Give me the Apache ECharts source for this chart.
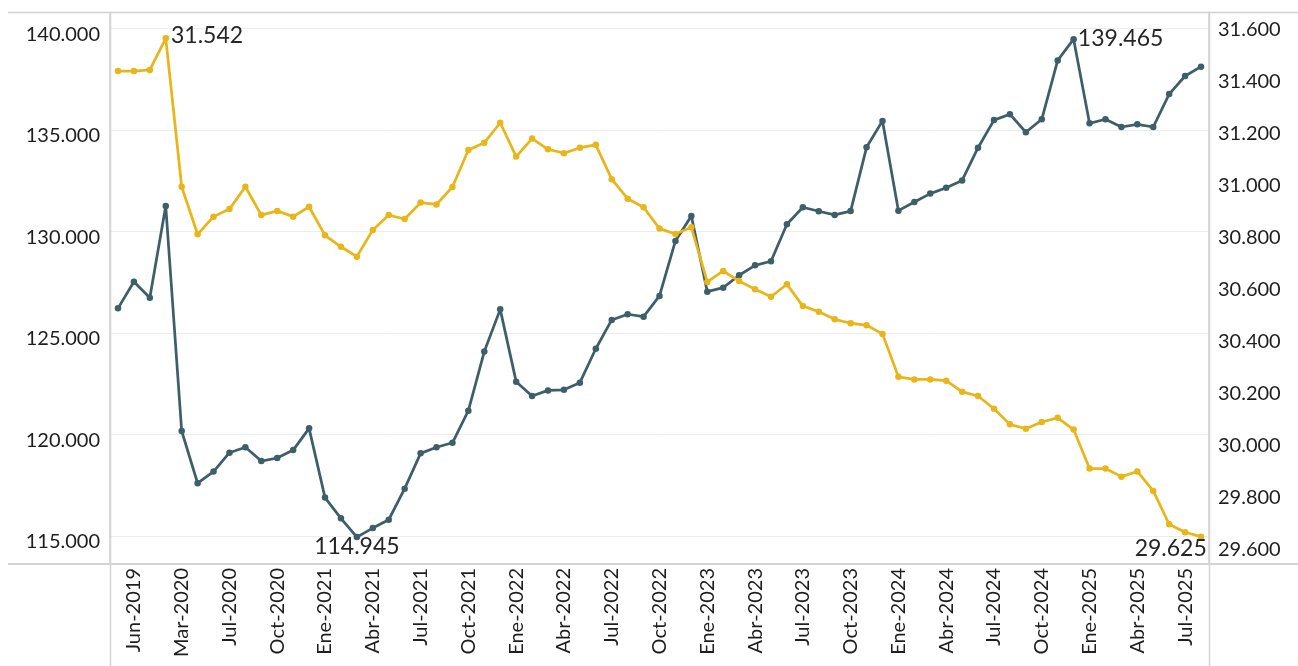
<!DOCTYPE html>
<html><head><meta charset="utf-8">
<script src="https://cdn.jsdelivr.net/npm/echarts@6/dist/echarts.min.js"></script>
<style>html,body{margin:0;padding:0;background:#fff;}#c{width:1298px;height:666px;}</style>
</head><body><div id="c"></div>
<script>
const categories = ['Mar-2019','Jun-2019','Set-2019','Dic-2019','Mar-2020','May-2020','Jun-2020',
 'Jul-2020','Ago-2020','Set-2020','Oct-2020','Nov-2020','Dic-2020',
 'Ene-2021','Feb-2021','Mar-2021','Abr-2021','May-2021','Jun-2021','Jul-2021','Ago-2021','Set-2021','Oct-2021','Nov-2021','Dic-2021',
 'Ene-2022','Feb-2022','Mar-2022','Abr-2022','May-2022','Jun-2022','Jul-2022','Ago-2022','Set-2022','Oct-2022','Nov-2022','Dic-2022',
 'Ene-2023','Feb-2023','Mar-2023','Abr-2023','May-2023','Jun-2023','Jul-2023','Ago-2023','Set-2023','Oct-2023','Nov-2023','Dic-2023',
 'Ene-2024','Feb-2024','Mar-2024','Abr-2024','May-2024','Jun-2024','Jul-2024','Ago-2024','Set-2024','Oct-2024','Nov-2024','Dic-2024',
 'Ene-2025','Feb-2025','Mar-2025','Abr-2025','May-2025','Jun-2025','Jul-2025','Ago-2025'];

// left axis series (dark)
const serieIzq = [126210,127520,126730,131250,120170,117600,118170,119100,119370,118690,118840,119230,120300,
 116890,115870,114945,115390,115800,117330,119070,119370,119590,121170,124080,126160,
 122600,121890,122170,122200,122550,124220,125640,125920,125800,126820,129530,130760,
 127030,127230,127840,128330,128530,130350,131190,130990,130810,131000,134140,135440,
 131020,131450,131860,132150,132510,134120,135480,135770,134880,135520,138420,139465,
 135320,135520,135140,135270,135140,136760,137650,138110];

// right axis series (yellow)
const serieDer = [31416,31416,31420,31542,30971,30788,30856,30885,30971,30862,30878,30856,30894,
 30784,30740,30702,30805,30862,30847,30910,30903,30970,31112,31140,31217,
 31087,31156,31115,31100,31121,31132,31000,30925,30892,30810,30789,30815,
 30605,30647,30608,30577,30548,30596,30512,30490,30461,30446,30438,30405,
 30240,30230,30230,30225,30182,30166,30117,30057,30040,30066,30082,30037,
 29887,29887,29856,29876,29801,29673,29642,29625];

const ticksIzq = [115000,120000,125000,130000,135000,140000];
const ticksDer = [29600,29800,30000,30200,30400,30600,30800,31000,31200,31400,31600];

const fmt = v => Math.round(v).toString().replace(/\B(?=(\d{3})+(?!\d))/g, '.');
const FONT = 'Lato';
const TXT = '#1e1e1e';
const DARK = '#3d5f69';
const YEL = '#e9b61a';
const FRAME = '#d3d3d3';

function withLabels(arr, specs) {
  return arr.map((v, i) => specs[i] ? { value: v, label: Object.assign({ show: true, formatter: p => fmt(p.value), fontFamily: FONT, fontSize: 23, color: '#262626' }, specs[i]) } : v);
}
const izqMax = serieIzq.indexOf(Math.max(...serieIzq));
const izqMin = serieIzq.indexOf(Math.min(...serieIzq));
const derMax = serieDer.indexOf(Math.max(...serieDer));
const derMin = serieDer.indexOf(Math.min(...serieDer));
const specIzq = {}; specIzq[izqMax] = { position: 'right', offset: [-4, -1] }; specIzq[izqMin] = { position: 'bottom', offset: [0, -10] };
const specDer = {}; specDer[derMax] = { position: 'right', offset: [-3, -3] }; specDer[derMin] = { position: 'left', offset: [14, 12] };

const chart = echarts.init(document.getElementById('c'));
chart.setOption({
  animation: false,
  backgroundColor: '#fff',
  grid: { left: 110, right: 89, top: 12, bottom: 102, containLabel: false },
  xAxis: {
    type: 'category', data: categories, boundaryGap: true,
    axisLine: { show: true, lineStyle: { color: FRAME, width: 2 } },
    axisTick: { show: false },
    axisLabel: { interval: (i) => i % 3 === 1, rotate: 90, margin: 4, fontFamily: FONT, fontSize: 20, color: TXT }
  },
  yAxis: [{
    type: 'value', position: 'left', min: 113621, max: 140803,
    axisLine: { show: true, lineStyle: { color: FRAME, width: 1.5 } },
    axisTick: { show: false, customValues: ticksIzq },
    splitLine: { show: true, lineStyle: { color: '#ededed', width: 1 } },
    axisLabel: { customValues: ticksIzq, formatter: fmt, margin: 10, fontFamily: FONT, fontSize: 20, color: TXT, verticalAlign: 'top', lineHeight: 12 }
  }, {
    type: 'value', position: 'right', min: 29520, max: 31643,
    axisLine: { show: true, lineStyle: { color: FRAME, width: 1.5 } },
    axisTick: { show: false, customValues: ticksDer },
    splitLine: { show: false },
    axisLabel: { customValues: ticksDer, formatter: fmt, margin: 9, fontFamily: FONT, fontSize: 20, color: TXT, verticalAlign: 'top', lineHeight: 12 }
  }],
  series: [{
    type: 'line', yAxisIndex: 0, data: withLabels(serieIzq, specIzq),
    symbol: 'circle', symbolSize: 6.5, showAllSymbol: true,
    lineStyle: { color: DARK, width: 2.75 }, itemStyle: { color: DARK }, z: 3
  }, {
    type: 'line', yAxisIndex: 1, data: withLabels(serieDer, specDer),
    symbol: 'circle', symbolSize: 6.5, showAllSymbol: true,
    lineStyle: { color: YEL, width: 2.75 }, itemStyle: { color: YEL }, z: 4
  }],
  graphic: [
    { type: 'line', shape: { x1: 8, y1: 12.5, x2: 1298, y2: 12.5 }, style: { stroke: FRAME, lineWidth: 1.5 }, z: 100 },
    { type: 'line', shape: { x1: 8, y1: 564, x2: 1298, y2: 564 }, style: { stroke: FRAME, lineWidth: 2 }, z: 100 },
    { type: 'line', shape: { x1: 110.5, y1: 12, x2: 110.5, y2: 666 }, style: { stroke: FRAME, lineWidth: 1.5 }, z: 100 },
    { type: 'line', shape: { x1: 1209.5, y1: 12, x2: 1209.5, y2: 666 }, style: { stroke: FRAME, lineWidth: 1.5 }, z: 100 }
  ]
});
</script></body></html>
